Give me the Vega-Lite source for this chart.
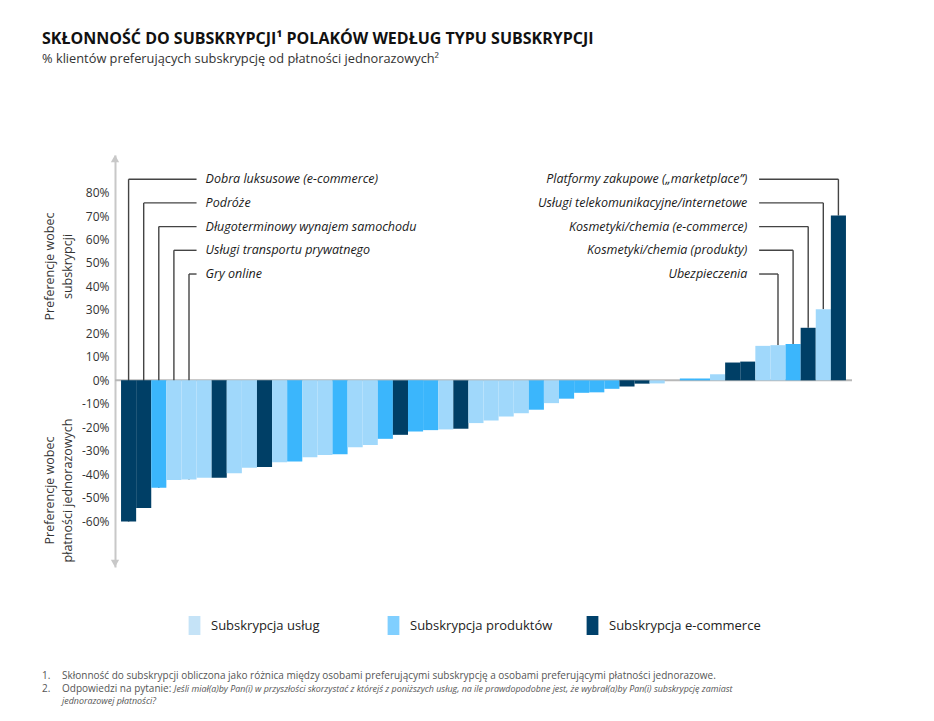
{
  "$schema": "https://vega.github.io/schema/vega-lite/v6.json",
  "autosize": "none",
  "width": 737,
  "height": 412,
  "padding": {"left": 115, "top": 155, "right": 82, "bottom": 154},
  "background": "white",
  "config": {"font": "Open Sans", "view": {"stroke": null}},
  "title": {
    "text": "SKŁONNOŚĆ DO SUBSKRYPCJI¹ POLAKÓW WEDŁUG TYPU SUBSKRYPCJI",
    "subtitle": "% klientów preferujących subskrypcję od płatności jednorazowych²",
    "anchor": "start",
    "frame": "group",
    "dx": -73,
    "offset": 89,
    "fontSize": 16,
    "fontWeight": "bold",
    "color": "#111111",
    "subtitleFontSize": 12.8,
    "subtitleColor": "#333333",
    "subtitlePadding": 6
  },
  "data": {
    "values": [
      {"rank": 1, "value": -60.1, "type": "Subskrypcja e-commerce", "label": "Dobra luksusowe (e-commerce)", "labelY": 85.7},
      {"rank": 2, "value": -54.4, "type": "Subskrypcja e-commerce", "label": "Podróże", "labelY": 75.6},
      {"rank": 3, "value": -45.7, "type": "Subskrypcja produktów", "label": "Długoterminowy wynajem samochodu", "labelY": 65.5},
      {"rank": 4, "value": -42.4, "type": "Subskrypcja usług", "label": "Usługi transportu prywatnego", "labelY": 55.4},
      {"rank": 5, "value": -42.2, "type": "Subskrypcja usług", "label": "Gry online", "labelY": 45.3},
      {"rank": 6, "value": -41.5, "type": "Subskrypcja usług"},
      {"rank": 7, "value": -41.5, "type": "Subskrypcja e-commerce"},
      {"rank": 8, "value": -39.6, "type": "Subskrypcja usług"},
      {"rank": 9, "value": -37.2, "type": "Subskrypcja usług"},
      {"rank": 10, "value": -36.9, "type": "Subskrypcja e-commerce"},
      {"rank": 11, "value": -34.9, "type": "Subskrypcja usług"},
      {"rank": 12, "value": -34.6, "type": "Subskrypcja produktów"},
      {"rank": 13, "value": -32.8, "type": "Subskrypcja usług"},
      {"rank": 14, "value": -31.8, "type": "Subskrypcja usług"},
      {"rank": 15, "value": -31.5, "type": "Subskrypcja produktów"},
      {"rank": 16, "value": -28.5, "type": "Subskrypcja usług"},
      {"rank": 17, "value": -27.5, "type": "Subskrypcja usług"},
      {"rank": 18, "value": -24.9, "type": "Subskrypcja produktów"},
      {"rank": 19, "value": -23.2, "type": "Subskrypcja e-commerce"},
      {"rank": 20, "value": -21.8, "type": "Subskrypcja produktów"},
      {"rank": 21, "value": -21.2, "type": "Subskrypcja produktów"},
      {"rank": 22, "value": -20.9, "type": "Subskrypcja usług"},
      {"rank": 23, "value": -20.6, "type": "Subskrypcja e-commerce"},
      {"rank": 24, "value": -18.2, "type": "Subskrypcja usług"},
      {"rank": 25, "value": -17.1, "type": "Subskrypcja usług"},
      {"rank": 26, "value": -15.4, "type": "Subskrypcja usług"},
      {"rank": 27, "value": -14.0, "type": "Subskrypcja usług"},
      {"rank": 28, "value": -12.5, "type": "Subskrypcja produktów"},
      {"rank": 29, "value": -9.7, "type": "Subskrypcja usług"},
      {"rank": 30, "value": -7.8, "type": "Subskrypcja produktów"},
      {"rank": 31, "value": -5.3, "type": "Subskrypcja produktów"},
      {"rank": 32, "value": -5.1, "type": "Subskrypcja produktów"},
      {"rank": 33, "value": -3.6, "type": "Subskrypcja produktów"},
      {"rank": 34, "value": -2.6, "type": "Subskrypcja e-commerce"},
      {"rank": 35, "value": -1.4, "type": "Subskrypcja e-commerce"},
      {"rank": 36, "value": -1.3, "type": "Subskrypcja usług"},
      {"rank": 37, "value": 0, "type": "Subskrypcja usług"},
      {"rank": 38, "value": 0.8, "type": "Subskrypcja produktów"},
      {"rank": 39, "value": 0.8, "type": "Subskrypcja produktów"},
      {"rank": 40, "value": 2.6, "type": "Subskrypcja usług"},
      {"rank": 41, "value": 7.6, "type": "Subskrypcja e-commerce"},
      {"rank": 42, "value": 8.0, "type": "Subskrypcja e-commerce"},
      {"rank": 43, "value": 14.7, "type": "Subskrypcja usług"},
      {"rank": 44, "value": 15.0, "type": "Subskrypcja usług", "label": "Ubezpieczenia", "labelY": 45.3},
      {"rank": 45, "value": 15.5, "type": "Subskrypcja produktów", "label": "Kosmetyki/chemia (produkty)", "labelY": 55.4},
      {"rank": 46, "value": 22.4, "type": "Subskrypcja e-commerce", "label": "Kosmetyki/chemia (e-commerce)", "labelY": 65.5},
      {"rank": 47, "value": 30.3, "type": "Subskrypcja usług", "label": "Usługi telekomunikacyjne/internetowe", "labelY": 75.6},
      {"rank": 48, "value": 70.2, "type": "Subskrypcja e-commerce", "label": "Platformy zakupowe („marketplace”)", "labelY": 85.7}
    ]
  },
  "layer": [
    {
      "transform": [{"filter": "datum.rank == 1"}],
      "mark": {"type": "rule", "color": "#b8b8b8", "strokeWidth": 2},
      "encoding": {
        "y": {
          "datum": 0,
          "type": "quantitative",
          "scale": {"domain": [-79.5, 96], "nice": false},
          "axis": {
            "orient": "left",
            "title": ["Preferencje wobec", "płatności jednorazowych"],
            "labels": false, "ticks": false, "domain": false, "grid": false,
            "titleAngle": 270, "titleX": -66, "titleY": 335,
            "titleAlign": "center", "titleBaseline": "middle",
            "titleFontSize": 12.5, "titleFontWeight": "normal", "titleColor": "#333333",
            "titleLineHeight": 18
          }
        }
      }
    },
    {
      "transform": [{"filter": "isValid(datum.label)"}],
      "mark": {"type": "rule", "color": "#444444", "strokeWidth": 1.4},
      "encoding": {
        "x": {"field": "rank", "type": "ordinal", "bandPosition": 0.5, "axis": null},
        "y": {"field": "labelY", "type": "quantitative", "axis": null},
        "y2": {"field": "value"}
      }
    },
    {
      "transform": [{"filter": "isValid(datum.label) && datum.rank <= 5"}],
      "mark": {"type": "rule", "color": "#444444", "strokeWidth": 1.4},
      "encoding": {
        "x": {"field": "rank", "type": "ordinal", "bandPosition": 0.5, "axis": null},
        "x2": {"datum": 6, "bandPosition": 0},
        "y": {"field": "labelY", "type": "quantitative", "axis": null}
      }
    },
    {
      "transform": [{"filter": "isValid(datum.label) && datum.rank >= 44"}],
      "mark": {"type": "rule", "color": "#444444", "strokeWidth": 1.4},
      "encoding": {
        "x": {"field": "rank", "type": "ordinal", "bandPosition": 0.5, "axis": null},
        "x2": {"datum": 43, "bandPosition": 0.25},
        "y": {"field": "labelY", "type": "quantitative", "axis": null}
      }
    },
    {
      "mark": {"type": "bar"},
      "encoding": {
        "x": {
          "field": "rank",
          "type": "ordinal",
          "scale": {"paddingInner": 0, "paddingOuter": 0.4},
          "axis": null
        },
        "y": {
          "field": "value",
          "type": "quantitative",
          "scale": {"domain": [-79.5, 96], "nice": false},
          "axis": {
            "orient": "left",
            "values": [-60, -50, -40, -30, -20, -10, 0, 10, 20, 30, 40, 50, 60, 70, 80],
            "labelExpr": "datum.value + '%'",
            "ticks": false,
            "grid": false,
            "domainColor": "#c8c8c8",
            "domainWidth": 2,
            "labelFontSize": 12,
            "labelColor": "#333333",
            "labelPadding": 6,
            "title": ["Preferencje wobec", "subskrypcji"],
            "titleAngle": 270, "titleX": -66, "titleY": 111,
            "titleAlign": "center", "titleBaseline": "middle",
            "titleFontSize": 12.5, "titleFontWeight": "normal", "titleColor": "#333333",
            "titleLineHeight": 18
          }
        },
        "color": {
          "field": "type",
          "type": "nominal",
          "scale": {
            "domain": ["Subskrypcja usług", "Subskrypcja produktów", "Subskrypcja e-commerce"],
            "range": ["#a0d8fb", "#3bb6fc", "#003f66"]
          },
          "legend": null
        }
      }
    },
    {
      "transform": [{"filter": "isValid(datum.label) && datum.rank <= 5"}],
      "mark": {"type": "text", "align": "left", "baseline": "middle", "dx": 9, "fontStyle": "italic", "fontSize": 12.5, "color": "#1a1a1a"},
      "encoding": {
        "x": {"datum": 6, "type": "ordinal", "bandPosition": 0, "axis": null},
        "y": {"field": "labelY", "type": "quantitative", "axis": null},
        "text": {"field": "label"}
      }
    },
    {
      "transform": [{"filter": "isValid(datum.label) && datum.rank >= 44"}],
      "mark": {"type": "text", "align": "right", "baseline": "middle", "dx": -8, "fontStyle": "italic", "fontSize": 12.5, "color": "#1a1a1a"},
      "encoding": {
        "x": {"datum": 43, "type": "ordinal", "bandPosition": 0, "axis": null},
        "y": {"field": "labelY", "type": "quantitative", "axis": null},
        "text": {"field": "label"}
      }
    },
    {
      "transform": [{"filter": "datum.rank == 1"}],
      "mark": {"type": "point", "shape": "triangle-up", "filled": true, "color": "#c8c8c8", "opacity": 1, "size": 70},
      "encoding": {
        "x": {"value": 0},
        "y": {"datum": 94.5, "type": "quantitative", "axis": null}
      }
    },
    {
      "transform": [{"filter": "datum.rank == 1"}],
      "mark": {"type": "point", "shape": "triangle-down", "filled": true, "color": "#c8c8c8", "opacity": 1, "size": 70},
      "encoding": {
        "x": {"value": 0},
        "y": {"datum": -78, "type": "quantitative", "axis": null}
      }
    },
    {
      "mark": {"type": "square", "opacity": 0},
      "encoding": {
        "x": {"field": "rank", "type": "ordinal", "axis": null},
        "y": {"field": "value", "type": "quantitative", "axis": null},
        "color": {
          "field": "type",
          "type": "nominal",
          "scale": {
            "domain": ["Subskrypcja usług", "Subskrypcja produktów", "Subskrypcja e-commerce"],
            "range": ["#c5e3f7", "#80cfff", "#00416b"]
          },
          "legend": {
            "orient": "none",
            "legendX": 70,
            "legendY": 461,
            "direction": "horizontal",
            "title": null,
            "symbolType": "M-0.62,-1H0.62V1H-0.62Z",
            "symbolSize": 361,
            "symbolOpacity": 1,
            "symbolStrokeWidth": 0,
            "labelFontSize": 13,
            "labelColor": "#222222",
            "labelOffset": 7,
            "columnPadding": 21,
            "gridAlign": "all"
          }
        }
      }
    },
    {
      "transform": [{"filter": "datum.rank == 1"}],
      "mark": {"type": "text", "align": "left", "baseline": "middle", "fontSize": 10, "color": "#555555", "text": "1."},
      "encoding": {"x": {"value": -73}, "y": {"value": 521}}
    },
    {
      "transform": [{"filter": "datum.rank == 1"}],
      "mark": {"type": "text", "align": "left", "baseline": "middle", "fontSize": 10, "color": "#555555", "text": "Skłonność do subskrypcji obliczona jako różnica między osobami preferującymi subskrypcję a osobami preferującymi płatności jednorazowe."},
      "encoding": {"x": {"value": -53}, "y": {"value": 521}}
    },
    {
      "transform": [{"filter": "datum.rank == 1"}],
      "mark": {"type": "text", "align": "left", "baseline": "middle", "fontSize": 10, "color": "#555555", "text": "2."},
      "encoding": {"x": {"value": -73}, "y": {"value": 533.5}}
    },
    {
      "transform": [{"filter": "datum.rank == 1"}],
      "mark": {"type": "text", "align": "left", "baseline": "middle", "fontSize": 10, "color": "#555555", "text": "Odpowiedzi na pytanie:"},
      "encoding": {"x": {"value": -53}, "y": {"value": 533.5}}
    },
    {
      "transform": [{"filter": "datum.rank == 1"}],
      "mark": {"type": "text", "align": "left", "baseline": "middle", "fontSize": 8.9, "fontStyle": "italic", "color": "#555555", "text": "Jeśli miał(a)by Pan(i) w przyszłości skorzystać z którejś z poniższych usług, na ile prawdopodobne jest, że wybrał(a)by Pan(i) subskrypcję zamiast"},
      "encoding": {"x": {"value": 59}, "y": {"value": 533.5}}
    },
    {
      "transform": [{"filter": "datum.rank == 1"}],
      "mark": {"type": "text", "align": "left", "baseline": "middle", "fontSize": 8.9, "fontStyle": "italic", "color": "#555555", "text": "jednorazowej płatności?"},
      "encoding": {"x": {"value": -53}, "y": {"value": 545.5}}
    }
  ],
  "resolve": {"scale": {"color": "independent"}, "axis": {"y": "independent"}}
}
